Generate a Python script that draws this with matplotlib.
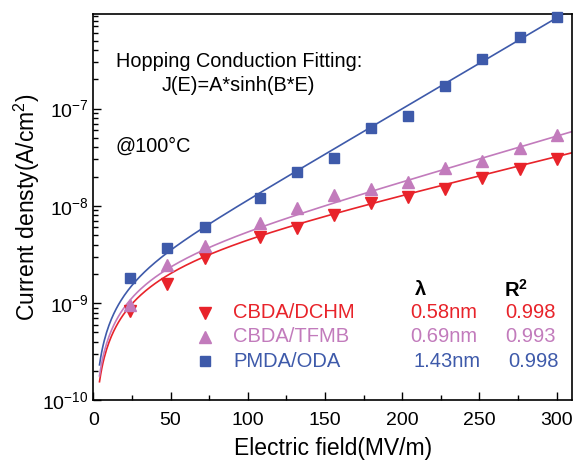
import numpy as np
import matplotlib
matplotlib.use("Agg")
import matplotlib.pyplot as plt
from matplotlib.ticker import LogLocator, MultipleLocator, NullFormatter, FixedLocator

plt.rcParams['font.family'] = ['Liberation Sans', 'DejaVu Sans']
plt.rcParams['mathtext.fontset'] = 'custom'
plt.rcParams['mathtext.rm'] = 'Liberation Sans'
plt.rcParams['mathtext.it'] = 'Liberation Sans:italic'
plt.rcParams['mathtext.bf'] = 'Liberation Sans:bold'

# ---- data ----
E = [24, 48, 72, 108, 132, 156, 180, 204, 228, 252, 276, 300]
J_dchm = [8.4e-10, 1.57e-9, 2.9e-9, 4.76e-9, 5.97e-9, 8.06e-9, 1.08e-8, 1.24e-8,
          1.48e-8, 1.92e-8, 2.38e-8, 3.03e-8]
J_tfmb = [9.6e-10, 2.47e-9, 3.9e-9, 6.6e-9, 9.45e-9, 1.29e-8, 1.48e-8, 1.77e-8,
          2.43e-8, 2.92e-8, 3.91e-8, 5.35e-8]
J_oda = [1.83e-9, 3.67e-9, 6.11e-9, 1.2e-8, 2.25e-8, 3.08e-8, 6.37e-8, 8.45e-8,
         1.71e-7, 3.21e-7, 5.4e-7, 8.67e-7]

# fit parameters J(E)=A*sinh(B*E)
A_fit = [4.33e-9, 4.17e-9, 2.7e-9]
B_fit = [0.0090, 0.01073, 0.0215]
fit_range = (4, 310)

y_major = [1e-10, 1e-9, 1e-8, 1e-7]

names = ['CBDA/DCHM', 'CBDA/TFMB', 'PMDA/ODA']
lambdas = ['0.58nm', '0.69nm', '1.43nm']
r2 = ['0.998', '0.993', '0.998']

colors = ['#E8232A', '#C27BBC', '#3E5AAA']
markers = ['v', '^', 's']

fig = plt.figure(figsize=(5.75, 4.63), dpi=100)
ax = fig.add_axes([0.1623, 0.135, 0.9948 - 0.1623, 0.9698 - 0.135])

Ef = np.linspace(fit_range[0], fit_range[1], 400)
series = [J_dchm, J_tfmb, J_oda]
for J, A, B, c, m in zip(series, A_fit, B_fit, colors, markers):
    ax.plot(Ef, A * np.sinh(B * Ef), color=c, lw=1.2, zorder=2)
    ms = 7 if m == 's' else 8.5
    ax.plot(E, J, linestyle='none', marker=m, color=c, ms=ms, mec=c, zorder=3,
            clip_on=False)

ax.set_yscale('log')
ax.set_xlim(0, 310)
ax.set_ylim(1e-10, 9.37e-7)
ax.xaxis.set_major_locator(MultipleLocator(50))
ax.xaxis.set_minor_locator(MultipleLocator(25))
ax.xaxis.set_minor_formatter(NullFormatter())
ax.yaxis.set_major_locator(FixedLocator(y_major))
ax.yaxis.set_minor_locator(LogLocator(base=10, subs=np.arange(2, 10), numticks=20))
ax.yaxis.set_minor_formatter(NullFormatter())

ax.tick_params(which='both', direction='in', top=False, right=False, labelsize=14,
               width=1.0, colors='black')
ax.tick_params(which='major', length=6)
ax.tick_params(which='minor', length=3.5)
ax.tick_params(axis='x', which='major', pad=8)
for s in ax.spines.values():
    s.set_linewidth(1.2)

ax.set_xlabel('Electric field(MV/m)', fontsize=16.5, labelpad=6)
ax.set_ylabel('Current densty(A/cm$^2$)', fontsize=16.5, labelpad=0)

tr = ax.transAxes
ax.text(0.047, 0.877, 'Hopping Conduction Fitting:', transform=tr, fontsize=14.3,
        va='center', ha='left')
ax.text(0.1435, 0.816, 'J(E)=A*sinh(B*E)', transform=tr, fontsize=14.3,
        va='center', ha='left')
ax.text(0.0455, 0.657, '@100°C', transform=tr, fontsize=14.3, va='center', ha='left')

rows_y = [0.2264, 0.1643, 0.1009]
ax.text(0.672, 0.2859, 'λ', transform=tr, fontsize=14.5, fontweight='bold',
        va='center', ha='left')
ax.text(0.858, 0.2859, 'R$^\\mathbf{2}$', transform=tr, fontsize=14.5, fontweight='bold',
        va='center', ha='left')
lam_x = [0.6615, 0.6615, 0.668]
r2_x = [0.86, 0.86, 0.866]
for i in range(3):
    ms = 7 if markers[i] == 's' else 8.5
    ax.plot([0.2335], [rows_y[i]], marker=markers[i], color=colors[i], ms=ms,
            transform=tr, linestyle='none', clip_on=False)
    ax.text(0.2918, rows_y[i], names[i], transform=tr, color=colors[i], fontsize=14.5,
            va='center', ha='left')
    ax.text(lam_x[i], rows_y[i], lambdas[i], transform=tr, color=colors[i],
            fontsize=14.5, va='center', ha='left')
    ax.text(r2_x[i], rows_y[i], r2[i], transform=tr, color=colors[i], fontsize=14.5,
            va='center', ha='left')

fig.savefig('out.png', dpi=100)
